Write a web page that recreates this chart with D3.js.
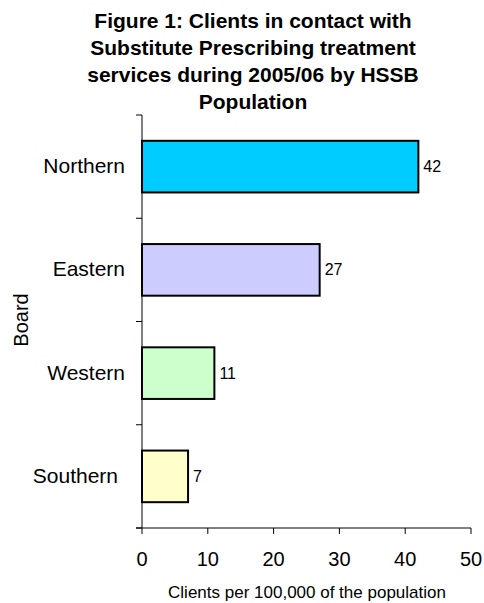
<!DOCTYPE html>
<html><head><meta charset="utf-8">
<script src="https://cdn.jsdelivr.net/npm/d3@7"></script>
<style>body{margin:0;background:#fff}svg{display:block}</style>
</head><body>
<script>
const categories = ["Northern","Eastern","Western","Southern"];
const values = [42,27,11,7];
const colors = ["#00CCFF","#CCCCFF","#CCFFCC","#FFFFCC"];
const xTicks = [0,10,20,30,40,50];
const titleLines = ["Figure 1: Clients in contact with","Substitute Prescribing treatment","services during 2005/06 by HSSB","Population"];

const W=484,H=603;
const svg=d3.select("body").append("svg").attr("width",W).attr("height",H);
const font="Liberation Sans, Arial, sans-serif";
const x=d3.scaleLinear().domain([0,50]).range([142,471]);
const y=d3.scaleBand().domain(categories).range([115,528]).paddingInner(0.5).paddingOuter(0.25);

svg.append("g").selectAll("text").data(titleLines).join("text")
  .attr("x",253).attr("y",(d,i)=>28+i*27).attr("text-anchor","middle")
  .attr("font-family",font).attr("font-weight","bold").attr("font-size",21).text(d=>d);

svg.append("g").selectAll("rect").data(categories).join("rect")
  .attr("x",x(0)).attr("y",d=>y(d)).attr("width",(d,i)=>x(values[i])-x(0)).attr("height",y.bandwidth())
  .attr("fill",(d,i)=>colors[i]).attr("stroke","#000").attr("stroke-width",2);

svg.append("g").selectAll("text").data(categories).join("text")
  .attr("x",(d,i)=>x(values[i])+5).attr("y",d=>y(d)+y.bandwidth()/2+5.5)
  .attr("font-family",font).attr("font-size",16).text((d,i)=>values[i]);

// y axis
const ya=svg.append("g");
ya.append("line").attr("x1",142).attr("x2",142).attr("y1",115).attr("y2",528).attr("stroke","#000");
const step=(528-115)/categories.length;
const yTickPos=d3.range(categories.length+1).map(i=>115+i*step);
ya.selectAll("line.t").data(yTickPos).join("line").attr("class","t")
  .attr("x1",136).attr("x2",142).attr("y1",d=>d).attr("y2",d=>d).attr("stroke","#000");
ya.selectAll("text").data(categories).join("text")
  .attr("x",(d,i)=>i===3?118:125).attr("y",d=>y(d)+y.bandwidth()/2+6.5).attr("text-anchor","end")
  .attr("font-family",font).attr("font-size",21).text(d=>d);

// x axis
const xa=svg.append("g");
xa.append("line").attr("x1",136).attr("x2",471).attr("y1",528).attr("y2",528).attr("stroke","#000");
xa.selectAll("line.t").data(xTicks).join("line").attr("class","t")
  .attr("x1",d=>x(d)).attr("x2",d=>x(d)).attr("y1",528).attr("y2",534).attr("stroke","#000");
xa.selectAll("text").data(xTicks).join("text")
  .attr("x",d=>x(d)).attr("y",566).attr("text-anchor","middle")
  .attr("font-family",font).attr("font-size",20).text(d=>d);

svg.append("text").attr("x",307).attr("y",598).attr("text-anchor","middle")
  .attr("font-family",font).attr("font-size",17).text("Clients per 100,000 of the population");
svg.append("text").attr("transform","translate(28,320) rotate(-90)").attr("text-anchor","middle")
  .attr("font-family",font).attr("font-size",20).text("Board");
</script>
</body></html>
